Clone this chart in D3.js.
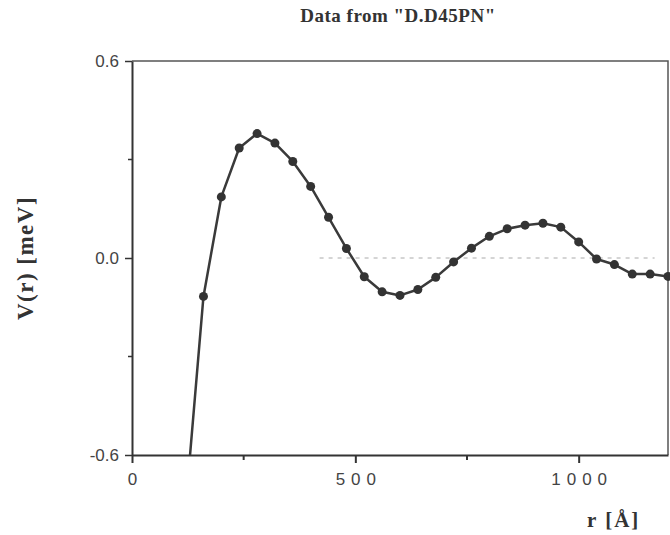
<!DOCTYPE html>
<html>
<head>
<meta charset="utf-8">
<script src="https://cdn.jsdelivr.net/npm/d3@7"></script>
<style>
  body { margin: 0; background: #fff; }
</style>
</head>
<body>
<div id="vis-holder"></div>
<script>
// Data (r in Angstrom, V in meV)
const rValues = [120, 160, 200, 240, 280, 320, 360, 400, 440, 480, 520, 560, 600, 640, 680,
  720, 760, 800, 840, 880, 920, 960, 1000, 1040, 1080, 1120, 1160, 1200];
const vValues = [-0.76, -0.117, 0.186, 0.335, 0.379, 0.350, 0.294, 0.218, 0.124, 0.029, -0.057, -0.103, -0.114, -0.096, -0.059,
  -0.012, 0.030, 0.066, 0.089, 0.100, 0.106, 0.094, 0.049, -0.003, -0.020, -0.049, -0.049, -0.056];
const xMajorTicks = [0, 500, 1000];
const xMinorTicks = [250, 750];
const yMajorTicks = [0.6, 0.0, -0.6];
const yMinorTicks = [0.3, -0.3];
const zeroTrace = [420, 1170]; // faint dotted zero line in the scan

const width = 670;
const height = 535;
const margin = { top: 61, right: 2, bottom: 80, left: 132 };

const svg = d3.select("#vis-holder")
  .append("svg")
  .attr("width", width)
  .attr("height", height);

const x = d3.scaleLinear()
  .domain([0, 1200])
  .range([margin.left, width - margin.right]);

const y = d3.scaleLinear()
  .domain([-0.6, 0.6])
  .range([height - margin.bottom, margin.top]);

const data = rValues.map((r, i) => ({ r: r, v: vValues[i] }));

// Title
svg.append("text")
  .attr("x", 398)
  .attr("y", 22)
  .attr("text-anchor", "middle")
  .attr("font-family", "Liberation Serif, Times New Roman, serif")
  .attr("font-weight", "bold")
  .attr("font-size", "19px")
  .attr("letter-spacing", "0.5px")
  .attr("fill", "#333")
  .text('Data from "D.D45PN"');

// Frame (top and right)
svg.append("path")
  .attr("d", `M${x(0)},${y(0.6)}H${x(1200)}V${y(-0.6)}`)
  .attr("fill", "none")
  .attr("stroke", "#555")
  .attr("stroke-width", 1.5);

// Faint zero line
svg.append("line")
  .attr("x1", x(zeroTrace[0]))
  .attr("x2", x(zeroTrace[1]))
  .attr("y1", y(0))
  .attr("y2", y(0))
  .attr("stroke", "#aaa")
  .attr("stroke-width", 1)
  .attr("stroke-dasharray", "4,5");

// X axis
const xAxis = svg.append("g")
  .attr("transform", `translate(0,${y(-0.6)})`)
  .call(d3.axisBottom(x).tickValues(xMajorTicks).tickSize(8).tickSizeOuter(0).tickFormat(d3.format("d")));
xAxis.select(".domain").attr("stroke", "#333").attr("stroke-width", 2);
xAxis.selectAll(".tick line").attr("stroke", "#333").attr("stroke-width", 2);
xAxis.selectAll(".tick text")
  .attr("font-family", "Liberation Sans, Arial, sans-serif")
  .attr("font-size", "17px")
  .attr("letter-spacing", "6px")
  .attr("dx", "3px")
  .attr("dy", "1.1em")
  .attr("fill", "#444");
xAxis.selectAll(".minor")
  .data(xMinorTicks)
  .enter()
  .append("line")
  .attr("x1", (d) => x(d))
  .attr("x2", (d) => x(d))
  .attr("y1", 0)
  .attr("y2", 5)
  .attr("stroke", "#333")
  .attr("stroke-width", 2);

// Y axis
const yAxis = svg.append("g")
  .attr("transform", `translate(${x(0)},0)`)
  .call(d3.axisLeft(y).tickValues(yMajorTicks).tickSize(7).tickSizeOuter(0)
    .tickFormat((d) => d3.format(".1f")(d).replace("−", "-")));
yAxis.select(".domain").attr("stroke", "#333").attr("stroke-width", 2);
yAxis.selectAll(".tick line").attr("stroke", "#333").attr("stroke-width", 1.5);
yAxis.selectAll(".tick text")
  .attr("font-family", "Liberation Sans, Arial, sans-serif")
  .attr("font-size", "17px")
  .attr("x", -13)
  .attr("fill", "#444");
yAxis.selectAll(".minor")
  .data(yMinorTicks)
  .enter()
  .append("line")
  .attr("x1", -4)
  .attr("x2", 0)
  .attr("y1", (d) => y(d))
  .attr("y2", (d) => y(d))
  .attr("stroke", "#333")
  .attr("stroke-width", 1.5);

// Axis titles
svg.append("text")
  .attr("transform", `translate(33,${y(0)}) rotate(-90)`)
  .attr("text-anchor", "middle")
  .attr("font-family", "Liberation Serif, Times New Roman, serif")
  .attr("font-weight", "bold")
  .attr("font-size", "23px")
  .attr("letter-spacing", "1.5px")
  .attr("fill", "#333")
  .text("V(r) [meV]");

svg.append("text")
  .attr("x", 587)
  .attr("y", 527)
  .attr("font-family", "Liberation Serif, Times New Roman, serif")
  .attr("font-weight", "bold")
  .attr("font-size", "21px")
  .attr("letter-spacing", "2px")
  .attr("fill", "#333")
  .text("r [Å]");

// Clip for the curve
svg.append("clipPath")
  .attr("id", "plot-clip")
  .append("rect")
  .attr("x", x(0))
  .attr("y", y(0.6))
  .attr("width", x(1200) - x(0) + 3)
  .attr("height", y(-0.6) - y(0.6));

const plot = svg.append("g").attr("clip-path", "url(#plot-clip)");

const line = d3.line()
  .x((d) => x(d.r))
  .y((d) => y(d.v));

plot.append("path")
  .datum(data)
  .attr("d", line)
  .attr("fill", "none")
  .attr("stroke", "#3a3a3a")
  .attr("stroke-width", 2.5)
  .attr("stroke-linejoin", "round");

plot.selectAll("circle")
  .data(data)
  .enter()
  .append("circle")
  .attr("cx", (d) => x(d.r))
  .attr("cy", (d) => y(d.v))
  .attr("r", 4.5)
  .attr("fill", "#333");
</script>
</body>
</html>
